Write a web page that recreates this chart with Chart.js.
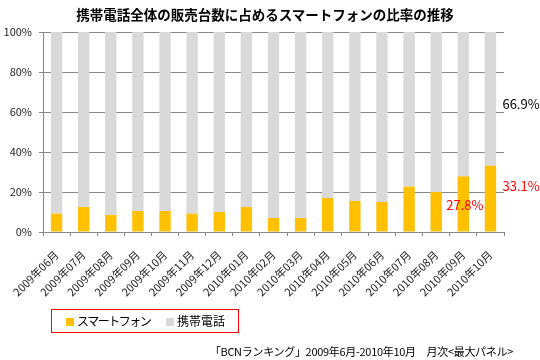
<!DOCTYPE html>
<html lang="ja">
<head>
  <meta charset="UTF-8">
  <title>スマートフォン比率の推移</title>
  <script src="https://cdn.jsdelivr.net/npm/chart.js"></script>
  <style>
    body { margin: 0; background: #fff; font-family: 'Noto Sans CJK JP', sans-serif; color: #000; }
    #wrap { position: relative; width: 540px; height: 360px; }
    #title {
      position: absolute; left: 0; top: 4px; width: 530px;
      text-align: center; font-size: 13.5px; font-weight: bold; line-height: 20px;
    }
    #legend {
      position: absolute; left: 51px; top: 309px; width: 186px; height: 22px;
      border: 1px solid #ff0000; font-size: 12px; line-height: 22px;
    }
    .item { position: absolute; top: 0; }
    .sw { display: inline-block; width: 8px; height: 8px; margin-right: 3px; vertical-align: 0; }
    #note {
      position: absolute; right: 27px; top: 343px;
      font-size: 11px; line-height: 16px; white-space: nowrap; letter-spacing: -0.3px;
    }
  </style>
</head>
<body>
  <div id="wrap">
    <canvas id="chart" width="540" height="360"></canvas>
    <div id="title">携帯電話全体の販売台数に占めるスマートフォンの比率の推移</div>
    <div id="legend">
      <span class="item" style="left:14px; letter-spacing:-1.5px"><span class="sw" style="background:#ffc000"></span>スマートフォン</span>
      <span class="item" style="left:114px"><span class="sw" style="background:#d9d9d9"></span>携帯電話</span>
    </div>
    <div id="note">「BCNランキング」2009年6月-2010年10月　月次&lt;最大パネル&gt;</div>
  </div>

  <script>
    // data
    const months = ['2009年06月', '2009年07月', '2009年08月', '2009年09月', '2009年10月', '2009年11月',
      '2009年12月', '2010年01月', '2010年02月', '2010年03月', '2010年04月', '2010年05月',
      '2010年06月', '2010年07月', '2010年08月', '2010年09月', '2010年10月'];
    const smartphone = [9.2, 12.5, 8.5, 10.5, 10.5, 9.2, 10.0, 12.5, 7.0, 7.0, 17.0, 15.5, 15.0, 22.7, 20.0, 27.8, 33.1];
    const featurePhone = [90.8, 87.5, 91.5, 89.5, 89.5, 90.8, 90.0, 87.5, 93.0, 93.0, 83.0, 84.5, 85.0, 77.3, 80.0, 72.2, 66.9];
    const yTicks = [0, 20, 40, 60, 80, 100];

    const font = "'Noto Sans CJK JP', sans-serif";
    const gridColor = '#868686';

    // percentage notes on the last two months
    const notesPlugin = {
      id: 'notes',
      afterDatasetsDraw(chart) {
        const ctx = chart.ctx;
        const x = chart.scales.x, y = chart.scales.y;
        const last = months.length - 1;
        ctx.save();
        ctx.textBaseline = 'middle';
        ctx.textAlign = 'left';
        ctx.font = '13px ' + font;
        ctx.fillStyle = '#000';
        ctx.fillText(featurePhone[last].toFixed(1) + '%', x.getPixelForValue(last) + 12, y.getPixelForValue(64));
        ctx.fillStyle = '#ff0000';
        ctx.fillText(smartphone[last].toFixed(1) + '%', x.getPixelForValue(last) + 12, y.getPixelForValue(23));
        ctx.fillText(smartphone[last - 1].toFixed(1) + '%', x.getPixelForValue(last - 1) - 17, y.getPixelForValue(13.5));
        ctx.restore();
      }
    };

    new Chart(document.getElementById('chart'), {
      type: 'bar',
      data: {
        labels: months,
        datasets: [
          { label: 'スマートフォン', data: smartphone, backgroundColor: '#ffc000' },
          { label: '携帯電話', data: featurePhone, backgroundColor: '#d9d9d9' }
        ]
      },
      options: {
        responsive: false,
        animation: false,
        events: [],
        layout: { padding: { left: 0, right: 36, top: 32, bottom: 0 } },
        datasets: { bar: { categoryPercentage: 1, barPercentage: 0.42 } },
        plugins: { legend: { display: false }, title: { display: false }, tooltip: { enabled: false } },
        scales: {
          x: {
            stacked: true,
            afterFit(s) { s.height = 128; },
            grid: { display: true, drawOnChartArea: false, offset: true, color: gridColor, tickLength: 4 },
            border: { color: gridColor },
            ticks: {
              autoSkip: false, minRotation: 45, maxRotation: 45, padding: 12,
              color: '#222', font: { family: font, size: 11 }
            }
          },
          y: {
            stacked: true,
            min: 0, max: 100,
            afterFit(s) { s.width = 43; },
            afterBuildTicks(s) { s.ticks = yTicks.map(v => ({ value: v })); },
            grid: { color: gridColor, tickLength: 4 },
            border: { color: gridColor },
            ticks: {
              padding: 7, color: '#222', font: { family: font, size: 11 },
              callback: v => v + '%'
            }
          }
        }
      },
      plugins: [notesPlugin]
    });
  </script>
</body>
</html>
